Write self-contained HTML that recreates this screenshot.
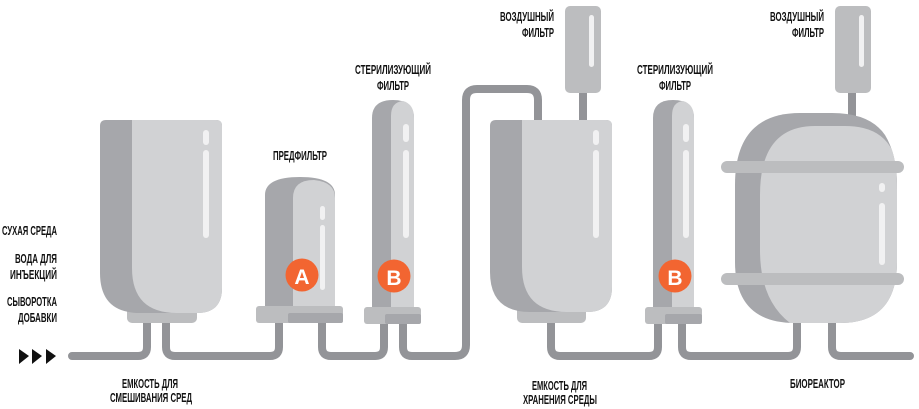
<!DOCTYPE html>
<html><head><meta charset="utf-8"><style>
html,body{margin:0;padding:0;background:#fff;width:919px;height:409px;overflow:hidden}
text{font-family:"Liberation Sans",sans-serif;font-weight:bold;font-size:13px;fill:#111}
</style></head><body>
<svg width="919" height="409" viewBox="0 0 919 409" xmlns="http://www.w3.org/2000/svg">
<g fill="none" stroke="#939498" stroke-width="8" stroke-linecap="round" stroke-linejoin="round">
<path d="M72 356 H138 Q147 356 147 347 V318"/>
<path d="M166 318 V347 Q166 356 175 356 H270 Q279 356 279 347 V318"/>
<path d="M322 318 V347 Q322 356 331 356 H375 Q384 356 384 347 V318"/>
<path d="M403 318 V347 Q403 356 412 356 H455 Q466 356 466 345 V100 Q466 89 477 89 H527 Q538 89 538 100 V124"/>
<path d="M551 318 V347 Q551 356 560 356 H649 Q658 356 658 347 V318"/>
<path d="M682 318 V347 Q682 356 691 356 H788 Q797 356 797 347 V318"/>
<path d="M832 318 V347 Q832 356 841 356 H910"/>
<path d="M583 90 V124"/>
<path d="M852 90 V118"/>
</g>
<g fill="#111">
<polygon points="19,349 29,356 19,364"/>
<polygon points="32,349 42,356 32,364"/>
<polygon points="46,349 56,356 46,364"/>
</g>
<!-- mixing tank -->
<rect x="127" y="305" width="70" height="18" rx="5" fill="#bcbdbf"/>
<path d="M106 120 H216 Q222 120 222 126 V288 Q222 313 197 313 H140 Q100 313 100 273 V126 Q100 120 106 120Z" fill="#a6a7ab"/>
<path d="M132 120 H216 Q222 120 222 126 V288 Q222 313 197 313 H177 Q132 313 132 268Z" fill="#d1d2d4"/>
<rect x="203" y="130" width="6" height="15" rx="3" fill="#f1f1f2"/>
<rect x="203" y="150" width="6" height="88" rx="3" fill="#f1f1f2"/>
<!-- prefilter -->
<path d="M265 310 V195 Q265 177 300 177 Q335 177 335 195 V310Z" fill="#a6a7ab"/>
<path d="M293 310 V198 Q293 180 314 180 Q335 182 335 198 V310Z" fill="#d1d2d4"/>
<rect x="320" y="206" width="5" height="14" rx="2.5" fill="#f1f1f2"/>
<rect x="320" y="225" width="5" height="65" rx="2.5" fill="#f1f1f2"/>
<rect x="256" y="306" width="87" height="17" rx="3" fill="#bcbdbf"/>
<rect x="288" y="313" width="55" height="10" rx="2" fill="#a6a7ab"/>
<circle cx="302" cy="275" r="16.5" fill="#f26531"/>
<text x="302" y="284" text-anchor="middle" style="font-size:21px;fill:#fff">A</text>
<!-- sterilizing filter 1 -->
<path d="M372 312 V118 Q372 100 393 100 Q414 100 414 118 V312Z" fill="#a6a7ab"/>
<path d="M391 312 V116 Q391 102 403 101 Q414 104 414 118 V312Z" fill="#d1d2d4"/>
<rect x="403" y="124" width="6" height="18" rx="3" fill="#f1f1f2"/>
<rect x="403" y="150" width="6" height="88" rx="3" fill="#f1f1f2"/>
<rect x="364" y="307" width="57" height="17" rx="3" fill="#bcbdbf"/>
<rect x="385" y="314" width="36" height="10" rx="2" fill="#a6a7ab"/>
<circle cx="394" cy="276" r="16.5" fill="#f26531"/>
<text x="394" y="285" text-anchor="middle" style="font-size:21px;fill:#fff">B</text>
<!-- air filter 1 -->
<rect x="565" y="6" width="36" height="87" rx="5" fill="#bcbdbf"/>
<rect x="589" y="15" width="5" height="52" rx="2.5" fill="#f1f1f2"/>
<!-- storage tank -->
<rect x="517" y="305" width="69" height="18" rx="5" fill="#bcbdbf"/>
<path d="M496 120 H606 Q612 120 612 126 V287 Q612 312 587 312 H530 Q490 312 490 272 V126 Q490 120 496 120Z" fill="#a6a7ab"/>
<path d="M522 120 H606 Q612 120 612 126 V287 Q612 312 587 312 H567 Q522 312 522 267Z" fill="#d1d2d4"/>
<rect x="593" y="130" width="6" height="15" rx="3" fill="#f1f1f2"/>
<rect x="593" y="150" width="6" height="88" rx="3" fill="#f1f1f2"/>
<!-- sterilizing filter 2 -->
<path d="M653 312 V118 Q653 100 673 100 Q694 100 694 118 V312Z" fill="#a6a7ab"/>
<path d="M672 312 V116 Q672 102 683 101 Q694 104 694 118 V312Z" fill="#d1d2d4"/>
<rect x="683" y="124" width="6" height="18" rx="3" fill="#f1f1f2"/>
<rect x="683" y="150" width="6" height="88" rx="3" fill="#f1f1f2"/>
<rect x="645" y="307" width="57" height="17" rx="3" fill="#bcbdbf"/>
<rect x="665" y="314" width="37" height="10" rx="2" fill="#a6a7ab"/>
<circle cx="675" cy="276" r="16.5" fill="#f26531"/>
<text x="675" y="285" text-anchor="middle" style="font-size:21px;fill:#fff">B</text>
<!-- air filter 2 -->
<rect x="835" y="6" width="36" height="87" rx="5" fill="#bcbdbf"/>
<rect x="859" y="15" width="5" height="52" rx="2.5" fill="#f1f1f2"/>
<!-- bioreactor -->
<path d="M800 113 H832 Q870 113 885 135 Q897 155 897 185 V262 Q897 323 840 323 H795 Q735 323 735 262 V185 Q735 113 800 113Z" fill="#a6a7ab"/>
<path d="M815 126 H845 Q880 126 892 150 Q897 165 897 190 V262 Q897 323 840 323 H790 Q760 300 760 250 V195 Q760 126 815 126Z" fill="#d1d2d4"/>
<rect x="721" y="161" width="183" height="12" rx="6" fill="#bcbdbf"/>
<rect x="721" y="273" width="183" height="12" rx="6" fill="#bcbdbf"/>
<rect x="879" y="183" width="6" height="9" rx="3" fill="#f1f1f2"/>
<rect x="879" y="203" width="6" height="62" rx="3" fill="#f1f1f2"/>
<!-- labels -->
<text x="2" y="235" textLength="55" lengthAdjust="spacingAndGlyphs">СУХАЯ СРЕДА</text>
<text x="15" y="263" textLength="42" lengthAdjust="spacingAndGlyphs">ВОДА ДЛЯ</text>
<text x="10" y="279" textLength="47" lengthAdjust="spacingAndGlyphs">ИНЪЕКЦИЙ</text>
<text x="7" y="306" textLength="50" lengthAdjust="spacingAndGlyphs">СЫВОРОТКА</text>
<text x="18" y="322" textLength="39" lengthAdjust="spacingAndGlyphs">ДОБАВКИ</text>
<text x="122" y="388" textLength="56" lengthAdjust="spacingAndGlyphs">ЕМКОСТЬ ДЛЯ</text>
<text x="110" y="402" textLength="82" lengthAdjust="spacingAndGlyphs">СМЕШИВАНИЯ СРЕД</text>
<text x="273" y="160" textLength="54" lengthAdjust="spacingAndGlyphs">ПРЕДФИЛЬТР</text>
<text x="355" y="74" textLength="76" lengthAdjust="spacingAndGlyphs">СТЕРИЛИЗУЮЩИЙ</text>
<text x="377" y="90" textLength="32" lengthAdjust="spacingAndGlyphs">ФИЛЬТР</text>
<text x="500" y="21" textLength="54" lengthAdjust="spacingAndGlyphs">ВОЗДУШНЫЙ</text>
<text x="522" y="37" textLength="32" lengthAdjust="spacingAndGlyphs">ФИЛЬТР</text>
<text x="637" y="74" textLength="76" lengthAdjust="spacingAndGlyphs">СТЕРИЛИЗУЮЩИЙ</text>
<text x="659" y="90" textLength="32" lengthAdjust="spacingAndGlyphs">ФИЛЬТР</text>
<text x="770" y="21" textLength="54" lengthAdjust="spacingAndGlyphs">ВОЗДУШНЫЙ</text>
<text x="792" y="37" textLength="32" lengthAdjust="spacingAndGlyphs">ФИЛЬТР</text>
<text x="532" y="390" textLength="55" lengthAdjust="spacingAndGlyphs">ЕМКОСТЬ ДЛЯ</text>
<text x="523" y="404" textLength="74" lengthAdjust="spacingAndGlyphs">ХРАНЕНИЯ СРЕДЫ</text>
<text x="790" y="388" textLength="55" lengthAdjust="spacingAndGlyphs">БИОРЕАКТОР</text>
</svg>
</body></html>
